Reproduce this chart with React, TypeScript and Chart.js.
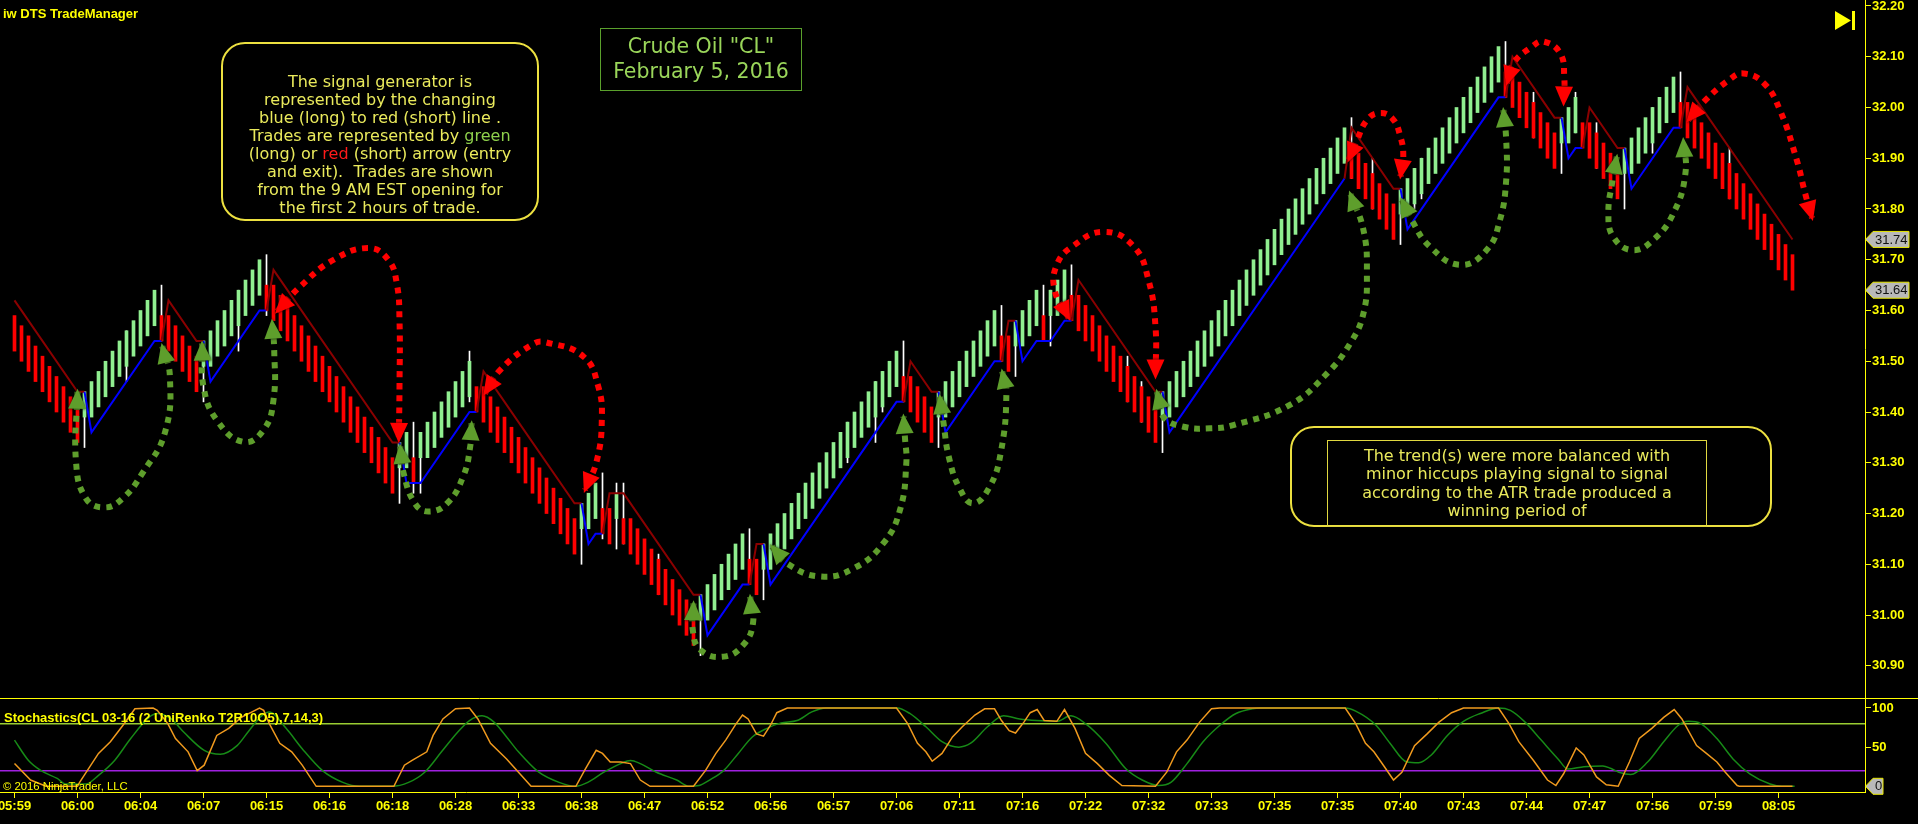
import React, { useEffect, useRef } from 'react';
import { Chart, registerables } from 'chart.js';

Chart.register(...registerables);

// ---------------- DATA ----------------
const closes = [
  31.52,31.50,31.48,31.46,31.44,31.42,31.40,31.38,31.36,31.34,
  31.44,31.46,31.48,31.50,31.52,31.54,31.56,31.58,31.60,31.62,
  31.64,31.54,31.52,31.50,31.48,31.46,31.44,31.54,31.56,31.58,
  31.60,31.62,31.64,31.66,31.68,31.70,31.60,31.58,31.56,31.54,
  31.52,31.50,31.48,31.46,31.44,31.42,31.40,31.38,31.36,31.34,
  31.32,31.30,31.28,31.26,31.24,31.34,31.36,31.26,31.36,31.38,
  31.40,31.42,31.44,31.46,31.48,31.50,31.40,31.38,31.36,31.34,
  31.32,31.30,31.28,31.26,31.24,31.22,31.20,31.18,31.16,31.14,
  31.12,31.22,31.24,31.26,31.16,31.14,31.24,31.14,31.12,31.10,
  31.08,31.06,31.04,31.02,31.00,30.98,30.96,30.94,31.04,31.06,
  31.08,31.10,31.12,31.14,31.16,31.06,31.04,31.14,31.16,31.18,
  31.20,31.22,31.24,31.26,31.28,31.30,31.32,31.34,31.36,31.38,
  31.40,31.42,31.44,31.46,31.48,31.50,31.52,31.42,31.40,31.38,
  31.36,31.34,31.44,31.46,31.48,31.50,31.52,31.54,31.56,31.58,
  31.60,31.50,31.48,31.58,31.60,31.62,31.64,31.54,31.64,31.66,
  31.68,31.58,31.56,31.54,31.52,31.50,31.48,31.46,31.44,31.42,
  31.40,31.38,31.36,31.34,31.44,31.46,31.48,31.50,31.52,31.54,
  31.56,31.58,31.60,31.62,31.64,31.66,31.68,31.70,31.72,31.74,
  31.76,31.78,31.80,31.82,31.84,31.86,31.88,31.90,31.92,31.94,
  31.96,31.86,31.84,31.82,31.80,31.78,31.76,31.74,31.84,31.86,
  31.88,31.90,31.92,31.94,31.96,31.98,32.00,32.02,32.04,32.06,
  32.08,32.10,32.12,32.02,32.00,31.98,31.96,31.94,31.92,31.90,
  31.88,31.98,32.00,32.02,31.92,31.90,31.88,31.86,31.84,31.82,
  31.92,31.94,31.96,31.98,32.00,32.02,32.04,32.06,31.96,31.94,
  31.92,31.90,31.88,31.86,31.84,31.82,31.80,31.78,31.76,31.74,
  31.72,31.70,31.68,31.66,31.64,
];

const opens = [
  31.59,31.57,31.55,31.53,31.51,31.49,31.47,31.45,31.43,31.41,
  31.39,31.39,31.41,31.43,31.45,31.47,31.49,31.51,31.53,31.55,
  31.57,31.59,31.59,31.57,31.55,31.53,31.51,31.49,31.49,31.51,
  31.53,31.55,31.57,31.59,31.61,31.63,31.65,31.65,31.63,31.61,
  31.59,31.57,31.55,31.53,31.51,31.49,31.47,31.45,31.43,31.41,
  31.39,31.37,31.35,31.33,31.31,31.29,31.29,31.31,31.31,31.31,
  31.33,31.35,31.37,31.39,31.41,31.43,31.45,31.45,31.43,31.41,
  31.39,31.37,31.35,31.33,31.31,31.29,31.27,31.25,31.23,31.21,
  31.19,31.17,31.17,31.19,31.21,31.21,31.19,31.19,31.19,31.17,
  31.15,31.13,31.11,31.09,31.07,31.05,31.03,31.01,30.99,30.99,
  31.01,31.03,31.05,31.07,31.09,31.11,31.11,31.09,31.09,31.11,
  31.13,31.15,31.17,31.19,31.21,31.23,31.25,31.27,31.29,31.31,
  31.33,31.35,31.37,31.39,31.41,31.43,31.45,31.47,31.47,31.45,
  31.43,31.41,31.39,31.39,31.41,31.43,31.45,31.47,31.49,31.51,
  31.53,31.55,31.55,31.53,31.53,31.55,31.57,31.59,31.59,31.59,
  31.61,31.63,31.63,31.61,31.59,31.57,31.55,31.53,31.51,31.49,
  31.47,31.45,31.43,31.41,31.39,31.39,31.41,31.43,31.45,31.47,
  31.49,31.51,31.53,31.55,31.57,31.59,31.61,31.63,31.65,31.67,
  31.69,31.71,31.73,31.75,31.77,31.79,31.81,31.83,31.85,31.87,
  31.89,31.91,31.91,31.89,31.87,31.85,31.83,31.81,31.79,31.79,
  31.81,31.83,31.85,31.87,31.89,31.91,31.93,31.95,31.97,31.99,
  32.01,32.03,32.05,32.07,32.07,32.05,32.03,32.01,31.99,31.97,
  31.95,31.93,31.93,31.95,31.97,31.97,31.95,31.93,31.91,31.89,
  31.87,31.87,31.89,31.91,31.93,31.95,31.97,31.99,32.01,32.01,
  31.99,31.97,31.95,31.93,31.91,31.89,31.87,31.85,31.83,31.81,
  31.79,31.77,31.75,31.73,31.71,
];

// wicks (white) on the bars that show one
const wickBars  = [10,16,21,27,32,36,55,57,58,65,81,84,86,87,92,98,105,107,119,123,124,127,132,141,143,147,148,151,159,161,164,191,194,198,200,201,213,217,221,223,226,230,234,238,245];
const wickLows  = [31.33,31.46,31.54,31.42,31.52,31.59,31.22,31.24,31.24,31.42,31.10,31.15,31.13,31.14,31.04,30.92,31.06,31.03,31.30,31.34,31.40,31.42,31.33,31.50,31.47,31.54,31.53,31.58,31.42,31.38,31.32,31.86,31.80,31.73,31.80,31.82,32.02,31.94,31.87,31.95,31.88,31.80,31.91,31.96,31.82];
const wickHighs = [31.44,31.56,31.65,31.54,31.64,31.71,31.34,31.38,31.36,31.52,31.22,31.28,31.26,31.26,31.12,31.04,31.17,31.14,31.38,31.46,31.48,31.54,31.44,31.61,31.58,31.65,31.64,31.69,31.51,31.46,31.44,31.98,31.90,31.84,31.88,31.90,32.13,32.03,31.98,32.03,31.97,31.92,32.00,32.07,31.92];

// signal generator (trailing line) vertices; side of the segment that starts at the vertex
const stopBars = [0,9,10,11,20,21,22,26,27,28,35,36,37,54,55,56,58,65,66,67,80,81,82,83,84,85,87,88,97,98,99,104,105,106,107,108,126,127,128,131,132,133,140,141,142,143,144,146,148,150,151,152,163,164,165,190,191,197,198,199,212,213,214,220,221,222,223,224,225,229,230,231,237,238,239,254];
const stopLevels = [
  31.62,31.44,31.44,31.36,31.54, 31.54,31.62,31.54,31.54,31.46,
  31.60,31.60,31.68,31.34,31.34, 31.26,31.26,31.40,31.40,31.48,
  31.22,31.22,31.14,31.16,31.16, 31.24,31.24,31.22,31.04,31.04,
  30.96,31.06,31.06,31.14,31.14, 31.06,31.42,31.42,31.50,31.44,
  31.44,31.36,31.50,31.50,31.58, 31.58,31.50,31.54,31.54,31.58,
  31.58,31.66,31.44,31.44,31.36, 31.86,31.96,31.84,31.84,31.76,
  32.02,32.02,32.10,31.98,31.98, 31.90,31.92,31.92,32.00,31.92,
  31.92,31.84,31.96,31.96,32.04, 31.74,
];
const stopSides = [
  'R','R','B','B','B', 'R','R','R','B','B',
  'B','R','R','R','B', 'B','B','B','R','R',
  'R','B','B','B','R', 'R','R','R','R','B',
  'B','B','R','R','B', 'B','B','R','R','R',
  'B','B','B','R','R', 'B','B','B','B','B',
  'R','R','R','B','B', 'R','R','R','B','B',
  'B','R','R','R','B', 'B','B','R','R','R',
  'B','B','B','R','R', 'R',
];

// trade arrows: [bar, price] way-points, entry -> exit
const arrowG1 = [[9.0,31.44],[8.8,31.30],[10.2,31.23],[12.8,31.212],[15.4,31.229],[18.3,31.28],[21.5,31.36],[22.2,31.47],[21.1,31.53]];
const arrowG2 = [[26.8,31.535],[27.0,31.45],[28.9,31.384],[32.7,31.341],[35.6,31.365],[37.0,31.424],[37.1,31.522],[36.8,31.578]];
const arrowR1 = [[37.5,31.598],[40.8,31.647],[45.6,31.70],[50.6,31.723],[53.4,31.70],[54.6,31.654],[55.0,31.581],[55.0,31.45],[54.9,31.345]];
const arrowG3 = [[55.1,31.332],[55.6,31.279],[57.2,31.22],[59.1,31.204],[61.8,31.22],[64.1,31.273],[65.1,31.332],[65.3,31.378]];
const arrowR2 = [[67.2,31.437],[69.4,31.483],[74.1,31.534],[76.0,31.537],[81.3,31.509],[83.4,31.45],[83.9,31.384],[83.2,31.305],[81.5,31.246]];
const arrowG4 = [[97.0,31.023],[96.9,30.970],[98.0,30.931],[101.3,30.918],[104.1,30.941],[105.5,30.984],[105.1,31.036]];
const arrowG5 = [[108.2,31.135],[110.3,31.102],[115.1,31.076],[119.9,31.092],[124.1,31.141],[126.5,31.207],[127.4,31.299],[127.2,31.351],[127.0,31.391]];
const arrowG6 = [[132.2,31.43],[132.7,31.38],[133.5,31.31],[135.0,31.25],[136.9,31.22],[139.2,31.25],[140.9,31.32],[141.7,31.44],[141.1,31.48]];
const arrowR3 = [[150.6,31.585],[148.6,31.64],[148.9,31.69],[151.1,31.726],[155.6,31.755],[159.9,31.726],[162.0,31.66],[163.0,31.568],[163.0,31.47]];
const arrowG7 = [[163.2,31.44],[164.1,31.391],[167.0,31.371],[170.8,31.368],[174.1,31.374],[182.2,31.414],[187.5,31.476],[190.8,31.535],[192.7,31.594],[193.2,31.673],[192.7,31.759],[190.8,31.831]];
const arrowR4 = [[190.6,31.897],[191.8,31.936],[193.2,31.975],[194.9,31.989],[196.8,31.979],[198.0,31.942],[198.4,31.903],[198.0,31.864]];
const arrowG8 = [[198.2,31.818],[199.6,31.778],[202.2,31.726],[206.5,31.69],[210.3,31.719],[212.2,31.778],[213.1,31.857],[213.1,31.936],[212.7,31.995]];
const arrowR5 = [[213.2,32.048],[214.1,32.087],[216.8,32.12],[218.4,32.13],[220.8,32.107],[221.4,32.058],[221.3,32.008]];
const arrowG9 = [[228.9,31.903],[228.3,31.857],[227.7,31.792],[228.4,31.745],[231.1,31.719],[234.1,31.739],[237.0,31.792],[238.7,31.87],[238.4,31.936]];
const arrowR6 = [[239.1,31.975],[241.3,32.011],[245.1,32.056],[247.0,32.067],[249.9,32.048],[252.2,31.995],[254.6,31.897],[255.8,31.831],[256.8,31.782]];
const longArrows = [arrowG1, arrowG2, arrowG3, arrowG4, arrowG5, arrowG6, arrowG7, arrowG8, arrowG9];
const shortArrows = [arrowR1, arrowR2, arrowR3, arrowR4, arrowR5, arrowR6];

// axis
const timeLabels = ['05:59','06:00','06:04','06:07','06:15','06:16','06:18','06:28','06:33','06:38','06:47','06:52','06:56','06:57','07:06','07:11','07:16','07:22','07:32','07:33','07:35','07:35','07:40','07:43','07:44','07:47','07:56','07:59','08:05'];
const timeLabelBars = [0,9,18,27,36,45,54,63,72,81,90,99,108,117,126,135,144,153,162,171,180,189,198,207,216,225,234,243,252];
const priceTicks = [30.9,31.0,31.1,31.2,31.3,31.4,31.5,31.6,31.7,31.8,31.9,32.0,32.1,32.2];
const priceMarkers = [31.74, 31.64];

// stochastics (7,14,3): K (orange) and D (green) as [bar, value]
const stochK = [[0,29],[2.3,8],[4.5,0],[9,0],[9.3,5],[12,42],[13.7,57],[15.5,78],[17.2,99],[19.8,100],[20.4,97],[21.9,80],[23,61],[24.8,44],[26.1,20],[27.1,27],[28.9,65],[30.6,74],[32.4,88],[35,100],[35.6,97],[36.4,80],[37.9,55],[39.6,44],[41.1,27],[43.1,0],[54.2,0],[55.7,27],[56.8,33],[58.9,44],[59.8,65],[61.2,86],[63,99],[65,100],[66.2,86],[68,55],[70.3,35],[72,18],[73.8,0],[80.2,0],[81.6,23],[83.1,46],[84,42],[85.1,31],[86.6,31],[88,29],[89.4,8],[90.8,0],[97,0],[98.7,20],[100.2,42],[101.6,59],[103.1,80],[104,91],[104.8,86],[106,67],[107,64],[108,78],[108.9,94],[110.4,100],[126,100],[127.6,80],[129,55],[130.2,44],[131.1,32],[132.5,42],[134,63],[135.4,76],[137.2,91],[138.6,99],[140,99],[141,84],[142.1,71],[143,68],[144.2,82],[145.1,94],[146.1,98],[147.1,84],[148.9,83],[150,98],[151.5,74],[153,42],[154.7,29],[156.4,14],[158.2,1],[163,0],[164.6,18],[166,44],[167.5,59],[169.3,82],[171,99],[172.2,100],[190.1,100],[191.6,80],[193,55],[194.2,44],[195.7,25],[197,8],[198.2,18],[200,52],[201.8,67],[203.5,82],[205.3,94],[207,100],[212,100],[213.5,80],[214.9,57],[217,33],[219,8],[220.2,1],[221.3,16],[223.1,49],[224.2,40],[226,12],[227.4,2],[229.1,0],[230.7,31],[232.1,61],[233.9,74],[235.6,88],[237.1,98],[238.2,86],[240.3,52],[241.7,42],[243.2,31],[244.4,18],[246.1,1],[246.4,0],[254,0]];
const stochD = [[0,59],[2,33],[3.8,20],[6.1,10],[7.3,3],[10.2,3],[12,14],[14.3,33],[16.6,61],[19.2,88],[20.4,93],[22.4,86],[24.2,69],[27.1,46],[29.4,41],[31.8,52],[33.5,71],[35.3,90],[36.4,95],[38.8,74],[41.1,48],[44,20],[46.9,5],[49.3,0],[53.9,0],[56.3,5],[58.6,18],[61,44],[63.3,69],[65,84],[66.8,90],[68.5,82],[70.3,63],[72,44],[74.9,18],[77.8,5],[80.2,0],[81.9,5],[84.2,18],[86.6,29],[88,33],[89.4,29],[91.7,18],[94.6,8],[96.4,0],[97.8,1],[99.3,8],[101.3,20],[103.4,42],[105.4,63],[107.5,74],[109.5,81],[111.8,84],[113.9,95],[115.9,100],[126.1,100],[127.9,93],[130.2,76],[132.5,57],[134.9,50],[136.6,55],[139,76],[141.3,90],[143.6,86],[146,84],[148.9,83],[150.9,90],[153,80],[155.9,55],[158.8,22],[161.1,8],[163.4,1],[165.2,5],[167.5,29],[169.8,57],[172.2,78],[174.5,93],[176.8,99],[178,100],[190.1,100],[191.6,96],[194.5,78],[196.5,55],[198.9,31],[200.6,30],[202.4,40],[204.7,65],[207,83],[209.4,93],[212,100],[213.7,97],[215.8,82],[218.1,59],[220.5,35],[221.9,22],[224.2,25],[226.9,26],[228,23],[229.2,18],[230.9,15],[233.3,31],[235.6,57],[237.7,78],[239.1,83],[240.9,80],[243.2,61],[245.5,35],[247.9,16],[250.8,3],[252.5,0],[254.3,0]];
const stochLevels = [80, 20];
const stochTicks = [0, 50, 100];
const stochTickLabels = ['', '50', '100'];
const stochMarkers = [0];

// ---------------- STYLE / LAYOUT ----------------
const YEL = '#ffff00';
const UP = '#90ee90';
const DOWN = '#ff0000';
const BLUE = '#0000ff';
const DKRED = '#8b0000';
const ARROW_GREEN = '#5e9e2c';
const ARROW_RED = '#ff0000';
const AX_FONT = '"Liberation Sans", Arial, sans-serif';
const BOX_FONT = '"DejaVu Sans", Verdana, sans-serif';
const W = 1918;
const MAIN_H = 698;
const STOCH_H = 126;
const AXIS_W = 53;
const BAR_PX = 7;
const X_MIN = -14.5 / BAR_PX;
const X_MAX = X_MIN + (W - AXIS_W) / BAR_PX;
const P_MIN = 30.8365;
const P_MAX = 32.2118;
const S_MIN = -7.28;
const S_MAX = 112.77;

function drawTag(ctx: CanvasRenderingContext2D, x0: number, yc: number, text: string, right: number) {
  ctx.save();
  ctx.beginPath();
  ctx.moveTo(x0 + 0.5, yc);
  ctx.lineTo(x0 + 8, yc - 8);
  ctx.lineTo(right, yc - 8);
  ctx.lineTo(right, yc + 8);
  ctx.lineTo(x0 + 8, yc + 8);
  ctx.closePath();
  ctx.fillStyle = '#b9b9b9';
  ctx.fill();
  ctx.strokeStyle = '#e8e800';
  ctx.lineWidth = 1;
  ctx.stroke();
  ctx.fillStyle = '#111111';
  ctx.font = '13px ' + AX_FONT;
  ctx.textBaseline = 'middle';
  ctx.textAlign = 'left';
  ctx.fillText(text, x0 + 10, yc + 0.5);
  ctx.restore();
}

const arrowHeadPlugin = {
  id: 'arrowHeads',
  afterDatasetsDraw(chart: any) {
    const ctx = chart.ctx;
    chart.data.datasets.forEach((ds: any, di: number) => {
      if (!ds.isArrow) return;
      const pts = chart.getDatasetMeta(di).data;
      const n = pts.length;
      if (n < 2) return;
      const ends = [[pts[0], pts[1]], [pts[n - 1], pts[n - 2]]];
      ends.forEach(([tip, prev]: any) => {
        const a = Math.atan2(tip.y - prev.y, tip.x - prev.x);
        const L = 17, H = 9;
        const bx = tip.x - Math.cos(a) * L;
        const by = tip.y - Math.sin(a) * L;
        ctx.save();
        ctx.shadowColor = 'rgba(0,0,0,0.9)';
        ctx.shadowBlur = 3;
        ctx.beginPath();
        ctx.moveTo(tip.x + Math.cos(a) * 3, tip.y + Math.sin(a) * 3);
        ctx.lineTo(bx + Math.cos(a + Math.PI / 2) * H, by + Math.sin(a + Math.PI / 2) * H);
        ctx.lineTo(bx - Math.cos(a + Math.PI / 2) * H, by - Math.sin(a + Math.PI / 2) * H);
        ctx.closePath();
        ctx.fillStyle = ds.borderColor;
        ctx.fill();
        ctx.restore();
      });
    });
  },
};

const mainDecorPlugin = {
  id: 'mainDecor',
  afterDraw(chart: any) {
    const ctx = chart.ctx;
    const ys = chart.scales.y;
    const x0 = chart.chartArea.right;
    priceMarkers.forEach((v) => drawTag(ctx, x0, ys.getPixelForValue(v), v.toFixed(2), x0 + 44));
    // "go to end" icon
    ctx.save();
    ctx.fillStyle = YEL;
    ctx.beginPath();
    ctx.moveTo(x0 - 30, 11);
    ctx.lineTo(x0 - 14, 20.5);
    ctx.lineTo(x0 - 30, 30);
    ctx.closePath();
    ctx.fill();
    ctx.fillRect(x0 - 13, 11, 3, 19);
    ctx.restore();
  },
};

const stochDecorPlugin = {
  id: 'stochDecor',
  afterDraw(chart: any) {
    const ctx = chart.ctx;
    ctx.save();
    ctx.strokeStyle = YEL;
    ctx.lineWidth = 1;
    ctx.beginPath();
    ctx.moveTo(0, 0.5);
    ctx.lineTo(chart.width, 0.5);
    ctx.stroke();
    ctx.restore();
    const ys = chart.scales.y;
    const x0 = chart.chartArea.right;
    stochMarkers.forEach((v) => drawTag(ctx, x0, ys.getPixelForValue(v), String(v), x0 + 18));
  },
};

function axisTicks() {
  return { drawOnChartArea: false, drawTicks: true, tickLength: 6, color: YEL, lineWidth: 1 };
}

function mainConfig(): any {
  const bodies = closes.map((c, i) => ({ x: i, y: [opens[i], c] }));
  const bodyColors = closes.map((c, i) => (c > opens[i] ? UP : DOWN));
  const wicks = wickBars.map((b, i) => ({ x: b, y: [wickLows[i], wickHighs[i]] }));
  const stop = stopBars.map((b, i) => ({ x: b, y: stopLevels[i] }));
  const arrowSets = [
    ...longArrows.map((a) => ({ pts: a, color: ARROW_GREEN })),
    ...shortArrows.map((a) => ({ pts: a, color: ARROW_RED })),
  ].map((a) => ({
    type: 'line',
    isArrow: true,
    data: a.pts.map((p) => ({ x: p[0], y: p[1] })),
    borderColor: a.color,
    borderWidth: 6,
    borderDash: [6, 6],
    borderCapStyle: 'butt',
    tension: 0.45,
    pointRadius: 0,
    order: 0,
  }));
  return {
    type: 'bar',
    data: {
      datasets: [
        { type: 'bar', data: wicks, backgroundColor: '#ffffff', barThickness: 1, grouped: false, borderWidth: 0, borderSkipped: false, order: 4 },
        { type: 'bar', data: bodies, backgroundColor: bodyColors, barThickness: 3, grouped: false, borderWidth: 0, borderSkipped: false, order: 3 },
        {
          type: 'line', data: stop, borderWidth: 2, pointRadius: 0, tension: 0, order: 2,
          borderColor: BLUE,
          segment: { borderColor: (ctx: any) => (stopSides[ctx.p0DataIndex] === 'B' ? BLUE : DKRED) },
        },
        ...arrowSets,
      ],
    },
    options: {
      animation: false,
      responsive: false,
      events: [],
      layout: { padding: 0 },
      plugins: { legend: { display: false }, tooltip: { enabled: false } },
      scales: {
        x: { type: 'linear', min: X_MIN, max: X_MAX, display: false, offset: false, grid: { offset: false } },
        y: {
          type: 'linear', position: 'right', min: P_MIN, max: P_MAX,
          afterBuildTicks: (s: any) => { s.ticks = priceTicks.map((v) => ({ value: v })); },
          afterFit: (s: any) => { s.width = AXIS_W; s.paddingTop = 0; s.paddingBottom = 0; },
          ticks: { color: YEL, padding: 1, font: { family: AX_FONT, size: 13, weight: 'bold' }, callback: (v: any) => Number(v).toFixed(2) },
          grid: axisTicks(),
          border: { display: true, color: YEL, width: 1 },
        },
      },
    },
    plugins: [arrowHeadPlugin, mainDecorPlugin],
  };
}

function stochConfig(): any {
  const levelColors = ['#9acd32', '#a020e0'];
  return {
    type: 'line',
    data: {
      datasets: [
        ...stochLevels.map((lv, i) => ({
          data: [{ x: X_MIN, y: lv }, { x: X_MAX, y: lv }],
          borderColor: levelColors[i], borderWidth: 1.5, pointRadius: 0, order: 5,
        })),
        { data: stochD.map((p) => ({ x: p[0], y: p[1] })), borderColor: '#178a17', borderWidth: 1.5, pointRadius: 0, tension: 0.4, cubicInterpolationMode: 'monotone', order: 2 },
        { data: stochK.map((p) => ({ x: p[0], y: p[1] })), borderColor: '#f09a1e', borderWidth: 1.5, pointRadius: 0, tension: 0, order: 1 },
      ],
    },
    options: {
      animation: false,
      responsive: false,
      events: [],
      layout: { padding: 0 },
      plugins: { legend: { display: false }, tooltip: { enabled: false } },
      scales: {
        x: {
          type: 'linear', position: 'bottom', min: X_MIN, max: X_MAX, offset: false,
          afterBuildTicks: (s: any) => { s.ticks = timeLabelBars.map((v) => ({ value: v })); },
          afterFit: (s: any) => { s.height = 32; s.paddingLeft = 0; s.paddingRight = 0; },
          ticks: {
            autoSkip: false, maxRotation: 0, minRotation: 0, color: YEL, padding: 1,
            font: { family: AX_FONT, size: 13, weight: 'bold' },
            callback: (_v: any, i: number) => timeLabels[i],
          },
          grid: axisTicks(),
          border: { display: true, color: YEL, width: 1 },
        },
        y: {
          type: 'linear', position: 'right', min: S_MIN, max: S_MAX,
          afterBuildTicks: (s: any) => { s.ticks = stochTicks.map((v) => ({ value: v })); },
          afterFit: (s: any) => { s.width = AXIS_W; s.paddingTop = 0; s.paddingBottom = 0; },
          ticks: { color: YEL, padding: 1, font: { family: AX_FONT, size: 13, weight: 'bold' }, callback: (_v: any, i: number) => stochTickLabels[i] },
          grid: axisTicks(),
          border: { display: true, color: YEL, width: 1 },
        },
      },
    },
    plugins: [stochDecorPlugin],
  };
}

const boxText: React.CSSProperties = {
  fontFamily: BOX_FONT,
  fontSize: 16,
  lineHeight: '18px',
  color: '#eaea5c',
  textAlign: 'center',
  whiteSpace: 'nowrap',
};

export default function App() {
  const mainRef = useRef<HTMLCanvasElement>(null);
  const stochRef = useRef<HTMLCanvasElement>(null);

  useEffect(() => {
    document.body.style.margin = '0';
    document.body.style.background = '#000';
    const main = new Chart(mainRef.current as HTMLCanvasElement, mainConfig());
    const stoch = new Chart(stochRef.current as HTMLCanvasElement, stochConfig());
    return () => {
      main.destroy();
      stoch.destroy();
    };
  }, []);

  return (
    <div style={{ position: 'fixed', left: 0, top: 0, width: W, height: 824, background: '#000', overflow: 'hidden' }}>
      <canvas ref={mainRef} width={W} height={MAIN_H} style={{ position: 'absolute', left: 0, top: 0, width: W, height: MAIN_H }} />
      <canvas ref={stochRef} width={W} height={STOCH_H} style={{ position: 'absolute', left: 0, top: MAIN_H, width: W, height: STOCH_H }} />

      <div style={{ position: 'absolute', left: 3, top: 6, fontFamily: AX_FONT, fontWeight: 'bold', fontSize: 13, lineHeight: '15px', color: YEL, whiteSpace: 'nowrap' }}>
        iw DTS TradeManager
      </div>

      <div style={{ position: 'absolute', left: 221, top: 42, width: 318, height: 179, boxSizing: 'border-box', border: '2px solid #ece040', borderRadius: 24, paddingTop: 29, ...boxText }}>
        <div>The signal generator is</div>
        <div>represented by the changing</div>
        <div>blue (long) to red (short) line .</div>
        <div>Trades are represented by <span style={{ color: '#8fd04c' }}>green</span></div>
        <div>(long) or <span style={{ color: '#ff1a1a' }}>red</span> (short) arrow (entry</div>
        <div>and exit).&nbsp; Trades are shown</div>
        <div>from the 9 AM EST opening for</div>
        <div>the first 2 hours of trade.</div>
      </div>

      <div style={{ position: 'absolute', left: 600, top: 28, width: 202, height: 63, boxSizing: 'border-box', border: '1px solid #5aa02c', paddingTop: 5, fontFamily: BOX_FONT, fontSize: 20.5, lineHeight: '25px', color: '#9ad65a', textAlign: 'center', whiteSpace: 'nowrap' }}>
        <div>Crude Oil "CL"</div>
        <div>February 5, 2016</div>
      </div>

      <div style={{ position: 'absolute', left: 1290, top: 426, width: 482, height: 101, boxSizing: 'border-box', border: '2px solid #ece040', borderRadius: 24 }} />
      <div style={{ position: 'absolute', left: 1327, top: 440, width: 380, height: 87, boxSizing: 'border-box', border: '1px solid #e0d840', paddingTop: 6, ...boxText, lineHeight: '18.3px' }}>
        <div>The trend(s) were more balanced with</div>
        <div>minor hiccups playing signal to signal</div>
        <div>according to the ATR trade produced a</div>
        <div>winning period of</div>
      </div>

      <div style={{ position: 'absolute', left: 4, top: 711, fontFamily: AX_FONT, fontWeight: 'bold', fontSize: 13, lineHeight: '14px', color: YEL, whiteSpace: 'nowrap' }}>
        Stochastics(CL 03-16 (2 UniRenko T2R10O5),7,14,3)
      </div>
      <div style={{ position: 'absolute', left: 3, top: 779, fontFamily: AX_FONT, fontSize: 11.3, lineHeight: '14px', color: YEL, whiteSpace: 'nowrap' }}>
        © 2016 NinjaTrader, LLC
      </div>
    </div>
  );
}
